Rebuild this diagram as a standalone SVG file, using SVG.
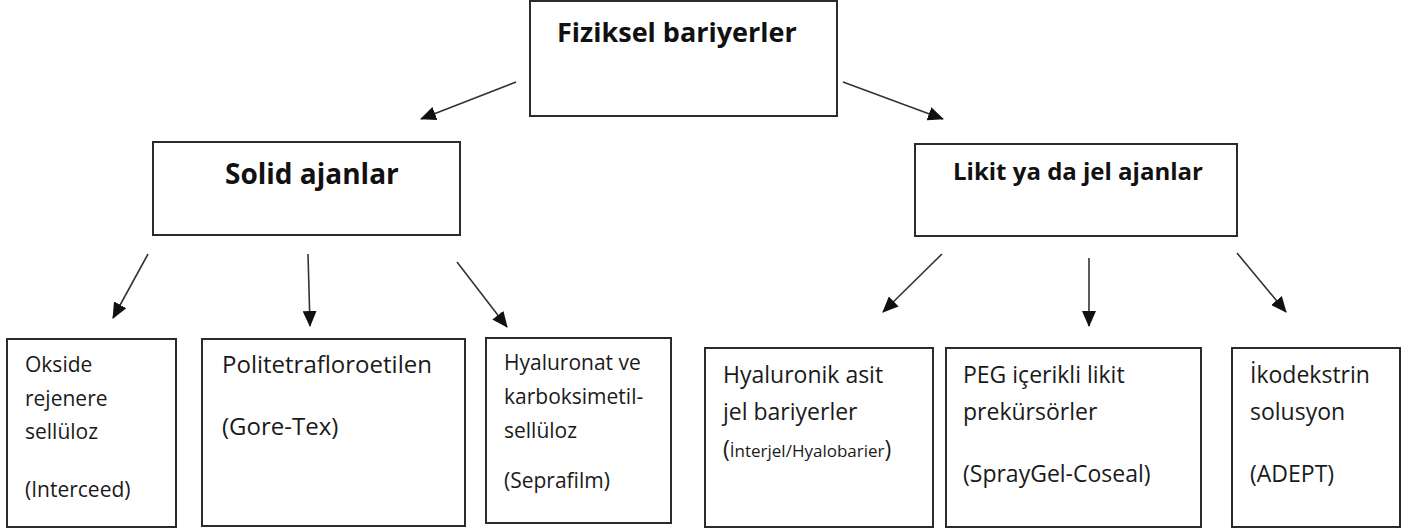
<svg xmlns="http://www.w3.org/2000/svg" width="1411" height="531" viewBox="0 0 1411 531">
<style>
.box{fill:#fff;stroke:#2b2b2b;stroke-width:2}
.hd{font-family:"Open Sans","Liberation Sans",sans-serif;font-weight:bold;fill:#111}
.tx{font-family:"Open Sans","Liberation Sans",sans-serif;fill:#1a1a1a}
.con{stroke:#333;stroke-width:1.6;fill:none;marker-end:url(#ah)}
</style>
<defs>
<marker id="ah" markerUnits="userSpaceOnUse" markerWidth="16" markerHeight="14" viewBox="0 0 16 14" refX="15" refY="7" orient="auto">
<path d="M0,0 L16,7 L0,14 Z" fill="#111"/>
</marker>
</defs>
<rect width="1411" height="531" fill="#fff"/>
<g id="connectors">
<line class="con" x1="516" y1="82" x2="421" y2="119"/>
<line class="con" x1="843" y1="82" x2="943" y2="119"/>
<line class="con" x1="148" y1="254" x2="113" y2="318"/>
<line class="con" x1="308" y1="254" x2="310" y2="326"/>
<line class="con" x1="457" y1="262" x2="507" y2="327"/>
<line class="con" x1="942" y1="254" x2="883" y2="312"/>
<line class="con" x1="1089" y1="258" x2="1089" y2="326"/>
<line class="con" x1="1237" y1="253" x2="1286" y2="312"/>
</g>
<g id="n-fiziksel">
<rect class="box" x="530" y="1" width="307" height="115"/>
<text class="hd" x="557" y="42" font-size="27">Fiziksel bariyerler</text>
</g>
<g id="n-solid">
<rect class="box" x="153" y="142" width="307" height="93"/>
<text class="hd" x="225" y="184" font-size="28">Solid ajanlar</text>
</g>
<g id="n-likit">
<rect class="box" x="915" y="144" width="322" height="92"/>
<text class="hd" x="953" y="180" font-size="24">Likit ya da jel ajanlar</text>
</g>
<g id="n-okside">
<rect class="box" x="7" y="339" width="169" height="188"/>
<text class="tx" font-size="21"><tspan x="25" y="372">Okside</tspan><tspan x="25" y="406">rejenere</tspan><tspan x="25" y="439">sellüloz</tspan><tspan x="25" y="497">(Interceed)</tspan></text>
</g>
<g id="n-ptfe">
<rect class="box" x="202" y="339" width="263" height="187"/>
<text class="tx" font-size="24"><tspan x="222" y="373">Politetrafloroetilen</tspan><tspan x="222" y="435">(Gore-Tex)</tspan></text>
</g>
<g id="n-hyaluronat">
<rect class="box" x="486" y="338" width="185" height="185"/>
<text class="tx" font-size="21"><tspan x="504" y="370">Hyaluronat ve</tspan><tspan x="504" y="404">karboksimetil-</tspan><tspan x="504" y="438">sellüloz</tspan><tspan x="504" y="488">(Seprafilm)</tspan></text>
</g>
<g id="n-hyaluronik">
<rect class="box" x="705" y="348" width="228" height="179"/>
<text class="tx" font-size="23"><tspan x="723" y="383">Hyaluronik asit</tspan><tspan x="723" y="420">jel bariyerler</tspan><tspan x="723" y="457">(<tspan font-size="17">İnterjel/Hyalobarier</tspan>)</tspan></text>
</g>
<g id="n-peg">
<rect class="box" x="946" y="348" width="255" height="179"/>
<text class="tx" font-size="23"><tspan x="963" y="383">PEG içerikli likit</tspan><tspan x="963" y="420">prekürsörler</tspan><tspan x="963" y="482">(SprayGel-Coseal)</tspan></text>
</g>
<g id="n-ikodekstrin">
<rect class="box" x="1232" y="348" width="168" height="179"/>
<text class="tx" font-size="23"><tspan x="1250" y="383">İkodekstrin</tspan><tspan x="1250" y="420">solusyon</tspan><tspan x="1250" y="482">(ADEPT)</tspan></text>
</g>
</svg>
